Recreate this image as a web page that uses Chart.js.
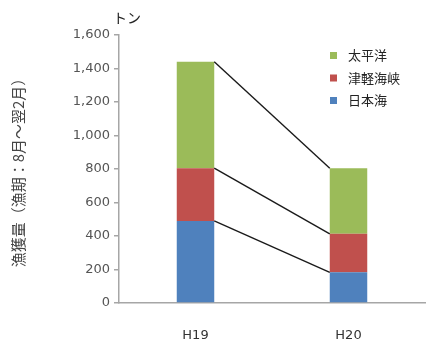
<!DOCTYPE html>
<html lang="ja">
<head>
<meta charset="utf-8">
<script src="https://cdn.jsdelivr.net/npm/chart.js@4"></script>
<style>
  html, body { margin: 0; padding: 0; background: #fff; }
  #wrap { width: 427px; height: 342px; position: relative; }
</style>
</head>
<body>
<div id="wrap"><canvas id="c" width="427" height="342"></canvas></div>
<script>
// 漁獲量（トン）: 年度ごと・海域ごと
const categories = ['H19', 'H20'];
const nihonkai = [490, 183];     // 日本海
const tsugaru  = [315, 230];     // 津軽海峡
const taiheiyo = [635, 392];     // 太平洋
const yTicks = [0, 200, 400, 600, 800, 1000, 1200, 1400, 1600];

const seriesNames = ['日本海', '津軽海峡', '太平洋'];
const seriesColors = ['#4F81BD', '#C0504D', '#9BBB59'];
const seriesValues = [nihonkai, tsugaru, taiheiyo];

const JP = '"Noto Sans CJK JP", "Noto Sans", sans-serif';
const NUM = '"DejaVu Sans", Verdana, sans-serif';

// Lines joining the tops of matching segments between neighbouring bars
const seriesLines = {
  id: 'seriesLines',
  afterDatasetsDraw(chart) {
    const ctx = chart.ctx;
    ctx.save();
    ctx.strokeStyle = '#1a1a1a';
    ctx.lineWidth = 1.4;
    chart.data.datasets.forEach((ds, i) => {
      const bars = chart.getDatasetMeta(i).data;
      for (let k = 0; k + 1 < bars.length; k++) {
        const a = bars[k], b = bars[k + 1];
        ctx.beginPath();
        ctx.moveTo(a.x + a.width / 2, a.y);
        ctx.lineTo(b.x - b.width / 2, b.y);
        ctx.stroke();
      }
    });
    ctx.restore();
  }
};

// Unit label above the value axis and the legend inside the plot
const extras = {
  id: 'extras',
  afterDraw(chart) {
    const ctx = chart.ctx;
    const area = chart.chartArea;
    ctx.save();
    ctx.fillStyle = '#222';
    ctx.font = '14px ' + JP;
    ctx.textBaseline = 'middle';
    ctx.textAlign = 'left';
    ctx.fillText('トン', area.left - 6, 18);

    const n = chart.data.datasets.length;
    const x0 = 330, y0 = 55.5, gap = 22.5;
    ctx.font = '13px ' + JP;
    for (let j = 0; j < n; j++) {
      const ds = chart.data.datasets[n - 1 - j];
      const cy = y0 + j * gap;
      ctx.fillStyle = ds.backgroundColor;
      ctx.fillRect(x0, cy - 3.5, 7, 7);
      ctx.fillStyle = '#222';
      ctx.fillText(ds.label, x0 + 18, cy);
    }
    ctx.restore();
  }
};

new Chart(document.getElementById('c'), {
  type: 'bar',
  data: {
    labels: categories,
    datasets: seriesValues.map((vals, i) => ({
      label: seriesNames[i],
      data: vals,
      backgroundColor: seriesColors[i],
      borderWidth: 0,
      categoryPercentage: 1,
      barPercentage: 0.245
    }))
  },
  options: {
    responsive: false,
    animation: false,
    devicePixelRatio: 1,
    layout: { padding: { top: 35, right: 2, left: 0, bottom: 0 } },
    plugins: {
      legend: { display: false },
      tooltip: { enabled: false }
    },
    scales: {
      x: {
        stacked: true,
        grid: { display: false, drawTicks: false },
        border: { color: '#a6a6a6', width: 1.5 },
        ticks: { color: '#333', font: { family: NUM, size: 13 }, padding: 25 },
        afterFit(scale) { scale.height = 39; }
      },
      y: {
        stacked: true,
        min: 0,
        max: 1600,
        afterBuildTicks(scale) { scale.ticks = yTicks.map(v => ({ value: v })); },
        grid: { drawOnChartArea: false, drawTicks: true, tickLength: 5, color: '#a6a6a6', lineWidth: 1.5 },
        border: { color: '#a6a6a6', width: 1.5 },
        ticks: {
          color: '#555',
          font: { family: NUM, size: 13 },
          padding: 4,
          callback: v => v.toLocaleString('en-US')
        },
        title: {
          display: true,
          text: '漁獲量（漁期：8月～翌2月）',
          color: '#444',
          font: { family: JP, size: 15 },
          padding: { top: 9, bottom: 0 }
        },
        afterFit(scale) { scale.width = 119; }
      }
    }
  },
  plugins: [seriesLines, extras]
});
</script>
</body>
</html>
